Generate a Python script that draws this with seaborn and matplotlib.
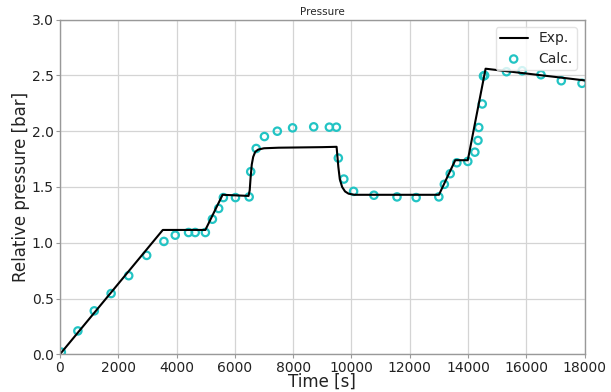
import matplotlib
matplotlib.use("Agg")
import matplotlib.pyplot as plt
import seaborn as sns
import pandas as pd

# Experimental curve
exp_t = [0, 3530, 4990, 5580, 6470, 6510, 6540, 6580, 6630, 6700, 6800, 7000, 7500,
         9000, 9490, 9510, 9550, 9600, 9680, 9780, 9900, 10100, 13000, 13560, 13990,
         14600, 18000]
exp_p = [0.0, 1.115, 1.115, 1.43, 1.42, 1.47, 1.58, 1.70, 1.77, 1.815, 1.835, 1.847, 1.852,
         1.857, 1.86, 1.80, 1.68, 1.57, 1.50, 1.46, 1.44, 1.43, 1.43, 1.74, 1.74,
         2.56, 2.455]

# Calculated points
calc_t = [50, 617, 1180, 1757, 2361, 2977, 3568, 3957, 4413, 4641, 4990, 5231, 5446,
          5607, 6022, 6492, 6545, 6733, 7015, 7457, 7981, 8705, 9242, 9483, 9550, 9738,
          10073, 10770, 11562, 12219, 12997, 13185, 13387, 13615, 13990, 14232, 14339,
          14366, 14486, 14527, 14567, 15318, 15855, 16499, 17196, 17907]
calc_p = [0.02, 0.21, 0.39, 0.545, 0.705, 0.887, 1.012, 1.068, 1.092, 1.092, 1.092, 1.211,
          1.307, 1.405, 1.405, 1.411, 1.637, 1.845, 1.952, 2.0, 2.03, 2.039, 2.036, 2.036,
          1.759, 1.571, 1.461, 1.426, 1.411, 1.405, 1.411, 1.524, 1.619, 1.717, 1.729,
          1.812, 1.917, 2.033, 2.244, 2.494, 2.5, 2.533, 2.542, 2.506, 2.452, 2.429]

x_ticks = [0, 2000, 4000, 6000, 8000, 10000, 12000, 14000, 16000, 18000]
y_ticks = [0.0, 0.5, 1.0, 1.5, 2.0, 2.5, 3.0]

sns.set_style("whitegrid")
plt.rcParams['font.family'] = ['DejaVu Sans']

fig = plt.figure(figsize=(6.11, 3.92), dpi=100)
ax = fig.add_axes([0.098, 0.096, 0.859, 0.854])

exp_df = pd.DataFrame({"t": exp_t, "p": exp_p})
calc_df = pd.DataFrame({"t": calc_t, "p": calc_p})

sns.lineplot(data=exp_df, x="t", y="p", ax=ax, color="black", linewidth=1.5,
             label="Exp.", sort=False, estimator=None)
sns.scatterplot(data=calc_df, x="t", y="p", ax=ax, marker="o", s=28,
                facecolor="none", edgecolor="#22c4c4", linewidth=1.6, label="Calc.")

ax.set_xlim(0, 18000)
ax.set_ylim(0, 3.0)
ax.set_xticks(x_ticks)
ax.set_yticks(y_ticks)
ax.set_xticklabels([str(v) for v in x_ticks], fontsize=10, color="#222222")
ax.set_yticklabels([f"{v:.1f}" for v in y_ticks], fontsize=10, color="#222222")
ax.set_xlabel("Time [s]", fontsize=12, labelpad=-1, color="#222222")
ax.set_ylabel("Relative pressure [bar]", fontsize=12, labelpad=1, color="#222222")
ax.set_title("Pressure", fontsize=7.5, pad=3)

ax.grid(True, color="#d4d4d4", linewidth=0.9)
for sp in ax.spines.values():
    sp.set_color("#999999")
    sp.set_linewidth(1.0)
ax.tick_params(axis="both", length=3, color="#999999", pad=1.5, direction="out")
ax.tick_params(left=True, bottom=True)

leg = ax.legend(loc="upper right", fontsize=10, frameon=True, borderpad=0.3,
                labelspacing=0.45, handlelength=2.0, scatterpoints=1,
                borderaxespad=0.55)
leg.get_frame().set_edgecolor("#dddddd")

fig.savefig("out.png", dpi=100)
